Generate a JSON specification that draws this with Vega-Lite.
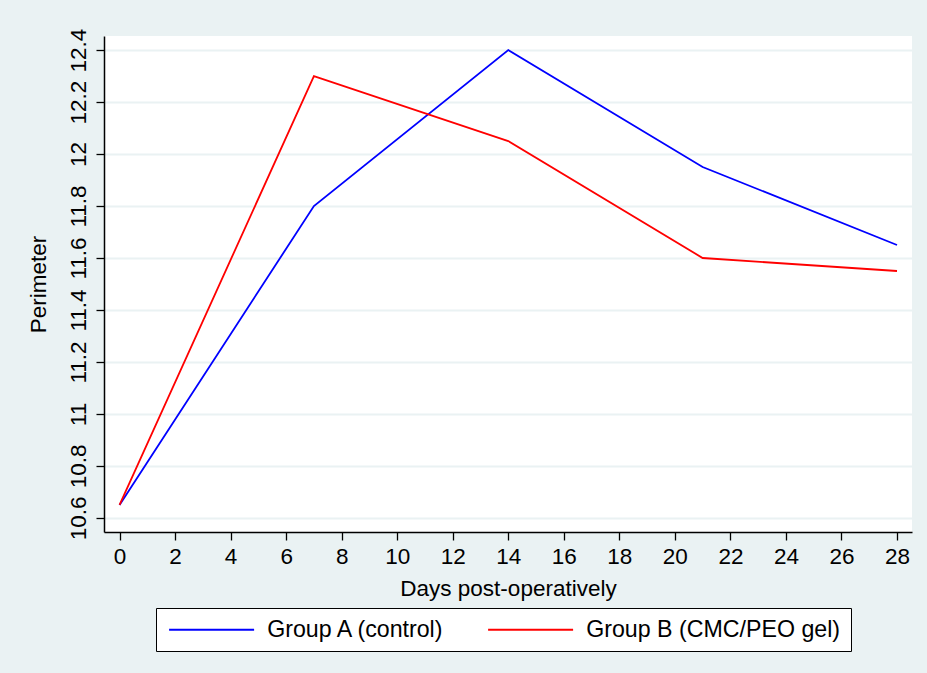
{
  "$schema": "https://vega.github.io/schema/vega-lite/v6.json",
  "autosize": {"type": "none"},
  "width": 808,
  "height": 496,
  "padding": {"left": 104, "top": 36, "right": 15, "bottom": 141},
  "background": "#EAF2F3",
  "config": {
    "font": "Liberation Sans",
    "view": {"fill": "white", "stroke": null}
  },
  "data": {
    "values": [
      {"day": 0, "perimeter": 10.65, "group": "Group A (control)"},
      {"day": 7, "perimeter": 11.8, "group": "Group A (control)"},
      {"day": 14, "perimeter": 12.4, "group": "Group A (control)"},
      {"day": 21, "perimeter": 11.95, "group": "Group A (control)"},
      {"day": 28, "perimeter": 11.65, "group": "Group A (control)"},
      {"day": 0, "perimeter": 10.65, "group": "Group B (CMC/PEO gel)"},
      {"day": 7, "perimeter": 12.3, "group": "Group B (CMC/PEO gel)"},
      {"day": 14, "perimeter": 12.05, "group": "Group B (CMC/PEO gel)"},
      {"day": 21, "perimeter": 11.6, "group": "Group B (CMC/PEO gel)"},
      {"day": 28, "perimeter": 11.55, "group": "Group B (CMC/PEO gel)"}
    ]
  },
  "mark": {"type": "line", "strokeWidth": 1.8},
  "encoding": {
    "x": {
      "field": "day",
      "type": "quantitative",
      "scale": {"domain": [-0.56, 28.54], "nice": false, "zero": false},
      "axis": {
        "title": "Days post-operatively",
        "values": [0, 2, 4, 6, 8, 10, 12, 14, 16, 18, 20, 22, 24, 26, 28],
        "grid": false,
        "domainColor": "black",
        "domainWidth": 1.5,
        "tickColor": "black",
        "tickWidth": 1.3,
        "tickSize": 8,
        "labelFontSize": 22.5,
        "labelColor": "black",
        "labelPadding": 5,
        "titleFontSize": 22.5,
        "titleFontWeight": "normal",
        "titleColor": "black",
        "titlePadding": 10
      }
    },
    "y": {
      "field": "perimeter",
      "type": "quantitative",
      "scale": {"domain": [10.546, 12.454], "nice": false, "zero": false},
      "axis": {
        "title": "Perimeter",
        "values": [10.6, 10.8, 11, 11.2, 11.4, 11.6, 11.8, 12, 12.2, 12.4],
        "labelExpr": "format(datum.value, '~g')",
        "grid": true,
        "gridColor": "#EAF2F3",
        "gridWidth": 1.8,
        "domainColor": "black",
        "domainWidth": 1.5,
        "tickColor": "black",
        "tickWidth": 1.3,
        "tickSize": 8,
        "labelAngle": -90,
        "labelAlign": "center",
        "labelBaseline": "bottom",
        "labelFontSize": 22.5,
        "labelColor": "black",
        "labelPadding": 6,
        "titleFontSize": 22.5,
        "titleFontWeight": "normal",
        "titleColor": "black",
        "titlePadding": 17
      }
    },
    "color": {
      "field": "group",
      "type": "nominal",
      "scale": {"domain": ["Group A (control)", "Group B (CMC/PEO gel)"], "range": ["#0000FF", "#FF0000"]},
      "legend": {
        "title": null,
        "orient": "none",
        "legendX": 52,
        "legendY": 572,
        "direction": "horizontal",
        "columns": 2,
        "symbolType": "M-5,0H5",
        "symbolSize": 289,
        "symbolStrokeWidth": 2,
        "symbolOffset": 34,
        "labelFontSize": 23.2,
        "labelColor": "black",
        "labelLimit": 400,
        "labelOffset": 44,
        "columnPadding": 38,
        "padding": 10,
        "strokeColor": "black",
        "fillColor": "white"
      }
    }
  }
}
